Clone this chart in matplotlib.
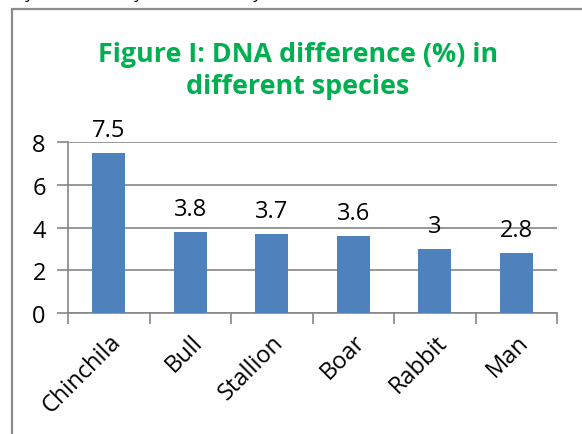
import matplotlib
matplotlib.use("Agg")
import matplotlib.pyplot as plt
from matplotlib.patches import Rectangle

species = ["Chinchila", "Bull", "Stallion", "Boar", "Rabbit", "Man"]
difference = [7.5, 3.8, 3.7, 3.6, 3, 2.8]
yticks = [0, 2, 4, 6, 8]
title = "Figure I: DNA difference (%) in\ndifferent species"

W, H = 582, 435
fig = plt.figure(figsize=(W / 100, H / 100), dpi=100)
font = ["Open Sans", "DejaVu Sans"]

# outer chart border (extends past right/bottom edges)
fig.patches.append(Rectangle((12 / W, -0.1), 1.2, (H - 10) / H + 0.1,
                             transform=fig.transFigure, fill=False,
                             edgecolor="#8c8c8c", linewidth=1.6))

# cropped text fragments at the top
for xp in [30, 139, 258]:
    fig.text(xp / W, (H + 2) / H, "y", fontsize=12, style="italic",
             ha="center", va="baseline", family=font, color="black")

ax = fig.add_axes([68 / W, (H - 314) / H, (557 - 68) / W, (314 - 143) / H])
x = range(len(species))
bars = ax.bar(x, difference, width=0.4, color="#4F81BD", zorder=3)
ax.set_xlim(-0.5, len(species) - 0.5)
ax.set_ylim(0, 8)
ax.set_yticks(yticks)
ax.set_yticklabels([str(t) for t in yticks], fontsize=17, family=font)
ax.yaxis.grid(True, color="#868686", linewidth=1.2, zorder=0)
ax.set_xticks([i - 0.5 for i in range(len(species) + 1)], minor=False)
ax.set_xticklabels([""] * (len(species) + 1))
ax.set_xticks(list(x), minor=True)
ax.set_xticklabels(species, minor=True, rotation=45, ha="right",
                   rotation_mode="anchor", fontsize=17, family=font)
ax.tick_params(axis="x", which="minor", length=0, pad=12)
ax.tick_params(axis="x", which="major", length=8, color="#868686", width=1.2)
ax.tick_params(axis="y", length=8, color="#868686", width=1.2, pad=8)
for s in ["top", "right"]:
    ax.spines[s].set_visible(False)
for s in ["left", "bottom"]:
    ax.spines[s].set_color("#868686")
    ax.spines[s].set_linewidth(1.2)

for xi, v in zip(x, difference):
    ax.annotate(f"{v:g}", (xi, v), xytext=(0, 8), textcoords="offset points",
                ha="center", va="bottom", fontsize=17, family=font)

fig.text(298 / W, 1 - 71 / H, title, ha="center", va="center",
         fontsize=19.4, fontweight="bold", color="#00B050", family=font,
         linespacing=1.35)

fig.savefig("out.png", dpi=100)
